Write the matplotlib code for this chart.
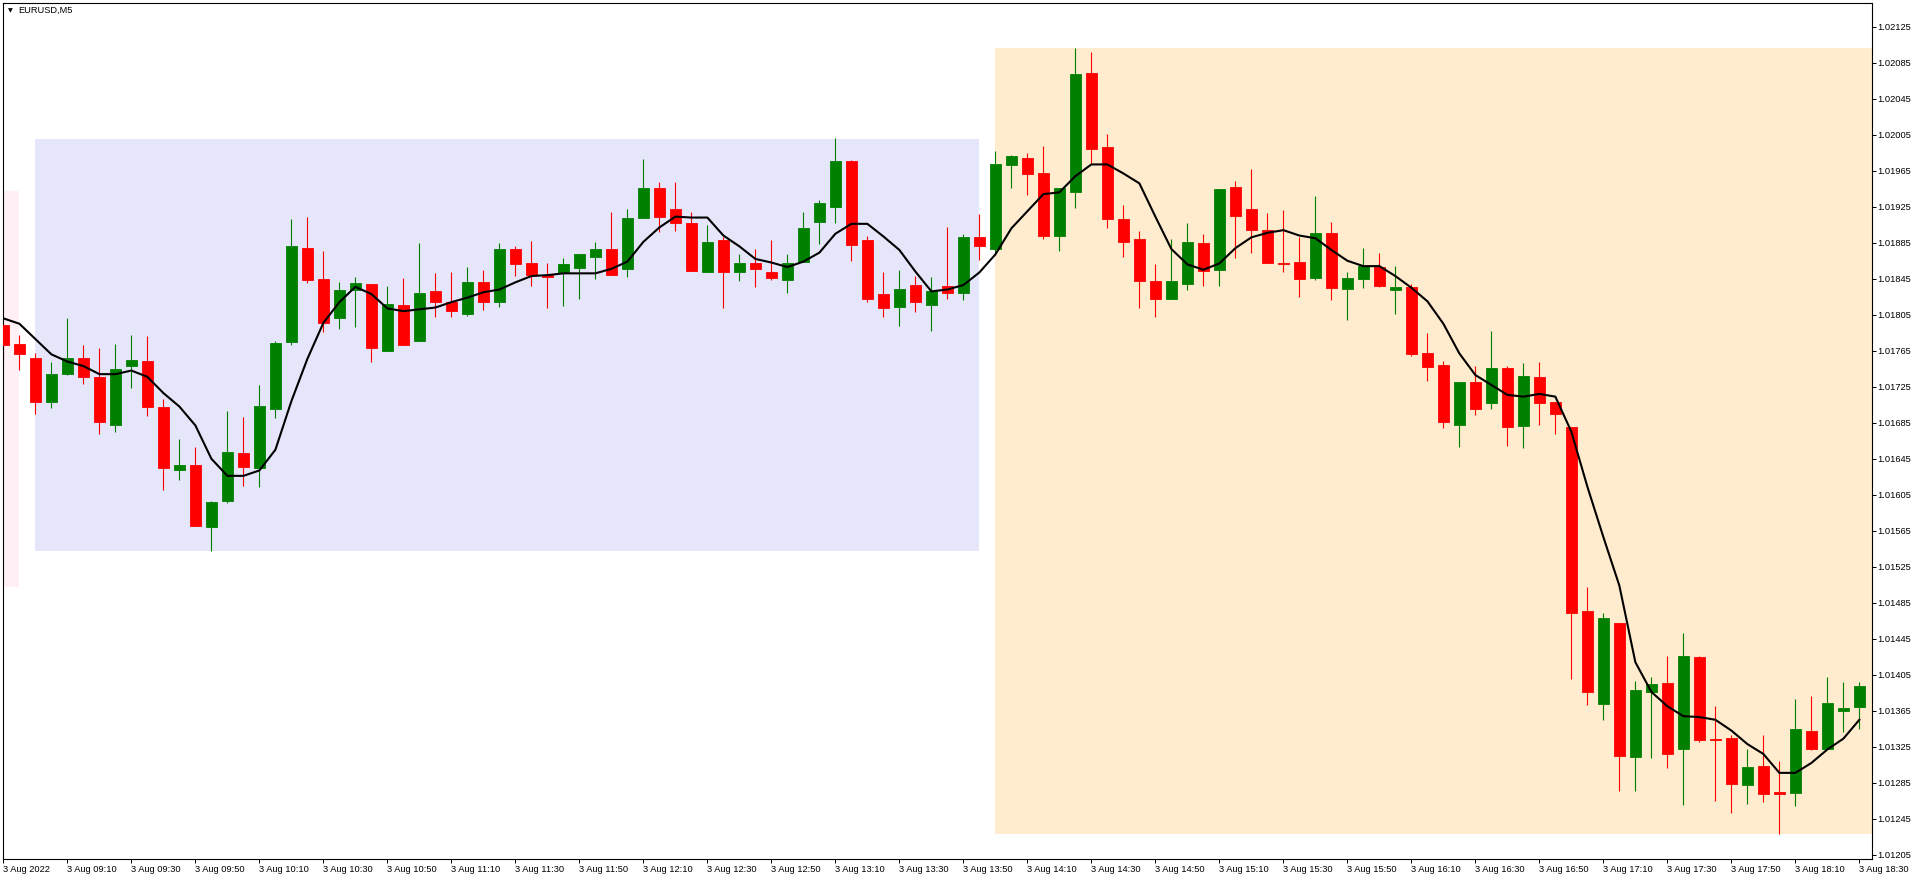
import matplotlib
matplotlib.use("Agg")
import matplotlib.pyplot as plt
from matplotlib.patches import Rectangle
import numpy as np

# EURUSD M5, 3 Aug 2022 08:50 .. 18:30 (one candle per 5 min)
opens = [1.01794, 1.01773, 1.01757, 1.01708, 1.01739, 1.01757, 1.01736, 1.01683, 1.01748, 1.01754,
         1.01703, 1.01633, 1.01638, 1.01569, 1.01598, 1.01651, 1.01635, 1.01700, 1.01775, 1.01879,
         1.01845, 1.01801, 1.01833, 1.01839, 1.01765, 1.01816, 1.01776, 1.01831, 1.01819, 1.01806,
         1.01841, 1.01819, 1.01878, 1.01862, 1.01849, 1.01851, 1.01857, 1.01869, 1.01878, 1.01856,
         1.01912, 1.01946, 1.01923, 1.01907, 1.01852, 1.01888, 1.01853, 1.01863, 1.01853, 1.01844,
         1.01864, 1.01908, 1.01925, 1.01976, 1.01888, 1.01828, 1.01814, 1.01838, 1.01816, 1.01837,
         1.01829, 1.01891, 1.01878, 1.01971, 1.01979, 1.01963, 1.01892, 1.01941, 1.02074, 1.01991,
         1.01911, 1.01889, 1.01843, 1.01822, 1.01839, 1.01885, 1.01855, 1.01947, 1.01922, 1.01899,
         1.01863, 1.01864, 1.01846, 1.01896, 1.01834, 1.01845, 1.01858, 1.01832, 1.01836, 1.01763,
         1.01749, 1.01682, 1.01730, 1.01707, 1.01746, 1.01681, 1.01736, 1.01708, 1.01680, 1.01476,
         1.01373, 1.01462, 1.01314, 1.01386, 1.01396, 1.01322, 1.01425, 1.01334, 1.01335, 1.01283,
         1.01304, 1.01275, 1.01274, 1.01342, 1.01322, 1.01365, 1.01369]
highs = [1.01796, 1.01782, 1.01762, 1.01752, 1.01801, 1.01771, 1.01768, 1.01773, 1.01782, 1.01781,
         1.01711, 1.01667, 1.01658, 1.01598, 1.01698, 1.01691, 1.01727, 1.01776, 1.01911, 1.01914,
         1.01876, 1.01841, 1.01847, 1.01839, 1.01837, 1.01846, 1.01885, 1.01851, 1.01853, 1.01858,
         1.01855, 1.01885, 1.01881, 1.01887, 1.01862, 1.01868, 1.01872, 1.01886, 1.01919, 1.01922,
         1.01978, 1.01952, 1.01953, 1.01919, 1.01905, 1.01891, 1.01873, 1.01878, 1.01888, 1.01873,
         1.01919, 1.01933, 1.02001, 1.01977, 1.01892, 1.01853, 1.01855, 1.01848, 1.01847, 1.01902,
         1.01895, 1.01917, 1.01987, 1.01983, 1.01985, 1.01992, 1.01946, 1.02101, 1.02097, 1.02006,
         1.01927, 1.01898, 1.01861, 1.01889, 1.01907, 1.01895, 1.01945, 1.01954, 1.01967, 1.01918,
         1.01921, 1.01891, 1.01937, 1.01908, 1.01853, 1.01879, 1.01874, 1.01859, 1.01839, 1.01785,
         1.01754, 1.01730, 1.01748, 1.01787, 1.01748, 1.01751, 1.01753, 1.01708, 1.01680, 1.01502,
         1.01474, 1.01462, 1.01398, 1.01402, 1.01426, 1.01451, 1.01426, 1.01370, 1.01338, 1.01322,
         1.01338, 1.01309, 1.01378, 1.01381, 1.01402, 1.01397, 1.01397]
lows = [1.01754, 1.01744, 1.01695, 1.01701, 1.01738, 1.01728, 1.01672, 1.01675, 1.01724, 1.01692,
        1.01610, 1.01621, 1.01570, 1.01542, 1.01596, 1.01615, 1.01614, 1.01690, 1.01771, 1.01840,
        1.01786, 1.01789, 1.01791, 1.01752, 1.01765, 1.01771, 1.01776, 1.01803, 1.01802, 1.01804,
        1.01810, 1.01814, 1.01848, 1.01837, 1.01812, 1.01815, 1.01822, 1.01845, 1.01849, 1.01847,
        1.01912, 1.01897, 1.01898, 1.01854, 1.01852, 1.01813, 1.01842, 1.01836, 1.01844, 1.01829,
        1.01864, 1.01884, 1.01907, 1.01865, 1.01819, 1.01803, 1.01793, 1.01808, 1.01787, 1.01823,
        1.01821, 1.01866, 1.01874, 1.01946, 1.01938, 1.01889, 1.01876, 1.01924, 1.01973, 1.01901,
        1.01869, 1.01813, 1.01803, 1.01822, 1.01832, 1.01837, 1.01837, 1.01868, 1.01874, 1.01863,
        1.01852, 1.01825, 1.01844, 1.01821, 1.01799, 1.01835, 1.01836, 1.01806, 1.01759, 1.01731,
        1.01679, 1.01658, 1.01694, 1.01700, 1.01659, 1.01657, 1.01683, 1.01672, 1.01400, 1.01371,
        1.01355, 1.01276, 1.01276, 1.01312, 1.01301, 1.01260, 1.01330, 1.01265, 1.01251, 1.01261,
        1.01264, 1.01228, 1.01259, 1.01321, 1.01322, 1.01341, 1.01345]
closes = [1.01771, 1.01761, 1.01708, 1.01739, 1.01757, 1.01736, 1.01686, 1.01745, 1.01755, 1.01703,
          1.01635, 1.01638, 1.01570, 1.01597, 1.01652, 1.01636, 1.01704, 1.01774, 1.01881, 1.01844,
          1.01796, 1.01833, 1.01840, 1.01768, 1.01817, 1.01771, 1.01829, 1.01819, 1.01809, 1.01841,
          1.01819, 1.01878, 1.01861, 1.01849, 1.01847, 1.01861, 1.01872, 1.01878, 1.01849, 1.01913,
          1.01946, 1.01914, 1.01907, 1.01854, 1.01886, 1.01853, 1.01862, 1.01856, 1.01846, 1.01863,
          1.01901, 1.01929, 1.01976, 1.01883, 1.01823, 1.01813, 1.01834, 1.01819, 1.01831, 1.01829,
          1.01891, 1.01881, 1.01973, 1.01981, 1.01961, 1.01893, 1.01946, 1.02073, 1.01989, 1.01911,
          1.01886, 1.01843, 1.01823, 1.01842, 1.01886, 1.01854, 1.01945, 1.01915, 1.01899, 1.01863,
          1.01861, 1.01845, 1.01896, 1.01835, 1.01846, 1.01859, 1.01837, 1.01836, 1.01761, 1.01747,
          1.01686, 1.01730, 1.01700, 1.01746, 1.01680, 1.01737, 1.01707, 1.01695, 1.01474, 1.01386,
          1.01468, 1.01315, 1.01388, 1.01395, 1.01317, 1.01426, 1.01332, 1.01332, 1.01284, 1.01302,
          1.01272, 1.01273, 1.01345, 1.01323, 1.01374, 1.01368, 1.01392]
# moving average line as drawn on the chart
ma_line = [1.01801, 1.01795, 1.01778, 1.01761, 1.01753, 1.01748, 1.01739, 1.01739, 1.01743, 1.01736,
           1.01718, 1.01703, 1.01682, 1.01645, 1.01626, 1.01626, 1.01632, 1.01655, 1.01709, 1.01756,
           1.01796, 1.01819, 1.01836, 1.01828, 1.01812, 1.01809, 1.01811, 1.01813, 1.01819, 1.01824,
           1.01830, 1.01833, 1.01841, 1.01848, 1.01849, 1.01851, 1.01851, 1.01851, 1.01856, 1.01864,
           1.01886, 1.01902, 1.01914, 1.01913, 1.01913, 1.01893, 1.01881, 1.01867, 1.01863, 1.01858,
           1.01864, 1.01874, 1.01895, 1.01906, 1.01906, 1.01892, 1.01877, 1.01853, 1.01831, 1.01833,
           1.01838, 1.01852, 1.01872, 1.01901, 1.01920, 1.01939, 1.01941, 1.01959, 1.01972, 1.01972,
           1.01962, 1.01951, 1.01914, 1.01878, 1.01861, 1.01855, 1.01862, 1.01879, 1.01891, 1.01896,
           1.01899, 1.01893, 1.01890, 1.01877, 1.01865, 1.01859, 1.01859, 1.01848, 1.01835, 1.01820,
           1.01795, 1.01762, 1.01738, 1.01727, 1.01716, 1.01714, 1.01717, 1.01714, 1.01675, 1.01614,
           1.01558, 1.01504, 1.01419, 1.01386, 1.01370, 1.01359, 1.01358, 1.01355, 1.01343, 1.01328,
           1.01317, 1.01296, 1.01296, 1.01307, 1.01322, 1.01334, 1.01355]

time_labels = ["3 Aug 2022", "3 Aug 09:10", "3 Aug 09:30", "3 Aug 09:50", "3 Aug 10:10",
               "3 Aug 10:30", "3 Aug 10:50", "3 Aug 11:10", "3 Aug 11:30", "3 Aug 11:50",
               "3 Aug 12:10", "3 Aug 12:30", "3 Aug 12:50", "3 Aug 13:10", "3 Aug 13:30",
               "3 Aug 13:50", "3 Aug 14:10", "3 Aug 14:30", "3 Aug 14:50", "3 Aug 15:10",
               "3 Aug 15:30", "3 Aug 15:50", "3 Aug 16:10", "3 Aug 16:30", "3 Aug 16:50",
               "3 Aug 17:10", "3 Aug 17:30", "3 Aug 17:50", "3 Aug 18:10", "3 Aug 18:30"]
price_ticks = [1.01205, 1.01245, 1.01285, 1.01325, 1.01365, 1.01405, 1.01445, 1.01485, 1.01525,
               1.01565, 1.01605, 1.01645, 1.01685, 1.01725, 1.01765, 1.01805, 1.01845, 1.01885,
               1.01925, 1.01965, 1.02005, 1.02045, 1.02085, 1.02125]

# session boxes (bar index from/to, price low/high)
box_start = [-1, 2, 62]
box_end = [1, 61, 118]
box_low = [1.01502, 1.01542, 1.01228]
box_high = [1.01942, 1.02000, 1.02101]
box_colors = ["#FFF0F5", "#E6E6FA", "#FFEBCD"]

W, H = 1918, 880
fig = plt.figure(figsize=(W / 100, H / 100), dpi=100)
ax = fig.add_axes([2.5 / W, 21 / H, 1869.5 / W, 856.3 / H])

n = len(opens)
idx = np.arange(n)
o = np.array(opens); c = np.array(closes)
hi = np.array(highs); lo = np.array(lows)

for s, e, l, h, col in zip(box_start, box_end, box_low, box_high, box_colors):
    ax.add_patch(Rectangle((s, l), e - s, h - l, facecolor=col, edgecolor="none", zorder=0))

up = c >= o
colors = np.where(up, "#008000", "#FF0000")
ax.vlines(idx, lo, hi, colors=colors, linewidth=0.8, zorder=2)
body_lo = np.minimum(o, c)
body_h = np.abs(c - o)
ax.bar(idx, body_h, bottom=body_lo, width=0.69, color=colors, edgecolor=colors,
       linewidth=0.6, zorder=3)

ax.plot(idx, ma_line, color="black", linewidth=1.5, zorder=4)

ax.set_xlim(-0.056, 116.79)
ax.set_ylim(1.012003, 1.021517)

font = dict(family="Liberation Sans", size=6.7)
ax.yaxis.tick_right()
ax.set_yticks(price_ticks)
ax.set_yticklabels([f"{p:.5f}" for p in price_ticks], fontdict=font)
ax.set_xticks(idx[::4])
ax.set_xticklabels(time_labels, fontdict=font, ha="left")
ax.tick_params(axis="y", direction="out", length=2.6, width=0.7, pad=1.0)
ax.tick_params(axis="x", direction="out", length=2.9, width=0.7, pad=1.2)
for sp in ax.spines.values():
    sp.set_color("black")
    sp.set_linewidth(0.8)

fig.text(10 / W, 1 - 11 / H, "\u25bc", fontsize=4.5, family="DejaVu Sans", ha="center", va="center")
fig.text(18 / W, 1 - 10.7 / H, "EURUSD,M5", ha="left", va="center", **{"family": "Liberation Sans", "fontsize": 6.7})

fig.savefig("out.png", dpi=100)
